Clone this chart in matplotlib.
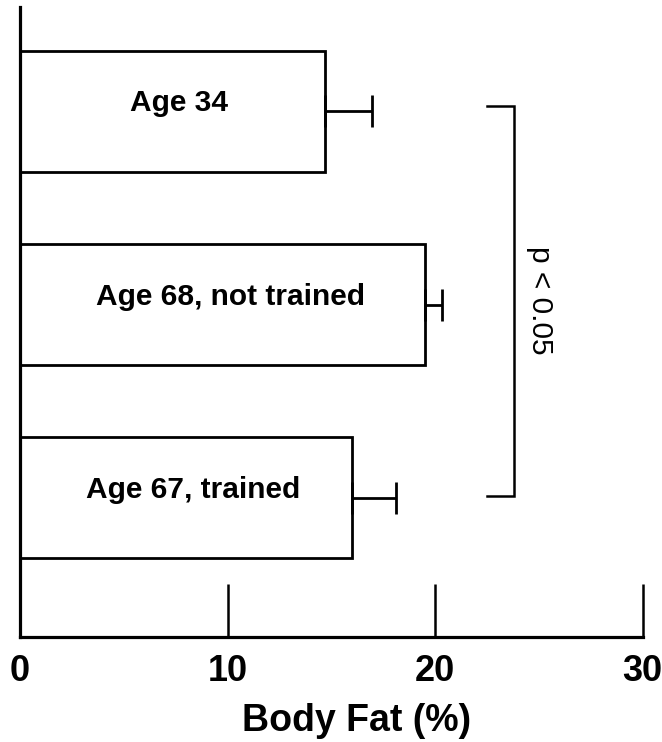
import matplotlib
matplotlib.use("Agg")
import matplotlib.pyplot as plt
import numpy as np

plt.rcParams['font.family'] = ['Liberation Sans', 'DejaVu Sans']

# Groups, listed top to bottom
groups = ["Age 34", "Age 68, not trained", "Age 67, trained"]
body_fat = [14.7, 19.5, 16.0]
body_fat_err = [2.25, 0.85, 2.1]
xticks = [0, 10, 20, 30]
sig_text = "p < 0.05"

fig = plt.figure(figsize=(6.62, 7.42), dpi=100)
ax = fig.add_axes([0.0302, 0.1415, 0.9404, 0.8490])

pos = np.arange(len(groups))[::-1].astype(float)

ax.barh(pos, body_fat, height=0.627, color="white", edgecolor="black",
        linewidth=2.0, zorder=2)
ax.errorbar(body_fat, pos, xerr=[np.zeros(len(body_fat)), body_fat_err],
            fmt="none", ecolor="black", elinewidth=2.0, capsize=11.5,
            capthick=2.0, zorder=3)

for p, v, name in zip(pos, body_fat, groups):
    ax.text(v * 0.52, p, name, ha="center", va="baseline",
            fontsize=21.5, fontweight="bold", zorder=4)

# Significance bracket spanning the age 34 and age 67 groups
bx0, bx1 = 22.5, 23.8
ytop, ybot = pos[0] + 0.03, pos[2] + 0.01
ax.plot([bx0, bx1, bx1, bx0], [ytop, ytop, ybot, ybot], color="black",
        linewidth=1.8, solid_joinstyle="miter", clip_on=False)
ax.text(bx1 + 1.25, (ytop + ybot) / 2, sig_text, rotation=-90,
        ha="center", va="center", fontsize=21.5)

ax.set_xlim(0, 30)
ax.set_ylim(-0.72, 2.54)
ax.set_xticks(xticks)
ax.set_xticklabels([str(t) for t in xticks], fontsize=26, fontweight="bold")
ax.tick_params(axis="x", direction="in", length=38, width=1.8, pad=12)
ax.set_yticks([])
ax.set_xlabel("Body Fat (%)", fontsize=27, fontweight="bold")
ax.xaxis.set_label_coords(0.54, -0.104)

for side in ("top", "right"):
    ax.spines[side].set_visible(False)
for side in ("left", "bottom"):
    ax.spines[side].set_linewidth(2.3)

fig.savefig("out.png", dpi=100)
